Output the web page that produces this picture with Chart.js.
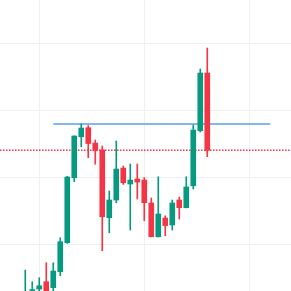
<!DOCTYPE html>
<html>
<head>
<meta charset="utf-8">
<script src="https://cdn.jsdelivr.net/npm/chart.js@4.4.1/dist/chart.umd.min.js"></script>
<style>
  html, body { margin: 0; padding: 0; background: #ffffff; }
  #wrap { width: 291px; height: 291px; }
</style>
</head>
<body>
<div id="wrap"><canvas id="chart"></canvas></div>
<script>
// OHLC (one candle per index)
const opens  = [92.5, 93.06, 93.28, 94.37, 93.48, 95.87, 100.19, 109.9, 116.01, 117.36, 115.07, 114.03, 103.93, 106.57, 111.34, 108.96, 109.7, 109.55, 106.12, 101.09, 103.88, 102.84, 106.57, 105.42, 108.7, 116.91, 125.52];
const highs  = [96.12, 94.37, 94.97, 97.21, 97.21, 100.94, 110.1, 116.15, 117.91, 117.69, 115.52, 114.63, 107.91, 115.37, 111.64, 111.94, 111.94, 109.9, 106.87, 110.04, 104.22, 106.57, 107.01, 110.04, 117.76, 126.12, 129.25];
const lows   = [92.0, 92.9, 92.91, 92.6, 93.03, 95.27, 100.1, 109.3, 114.52, 112.88, 111.9, 99.0, 101.69, 106.16, 108.91, 102.09, 106.72, 103.48, 101.05, 101.05, 101.24, 102.09, 103.73, 105.4, 108.21, 116.72, 113.03];
const closes = [92.9, 93.2, 93.78, 92.8, 95.97, 100.34, 110.0, 116.12, 117.31, 115.0, 113.96, 104.07, 106.57, 111.19, 109.15, 109.55, 109.25, 106.16, 101.09, 104.48, 102.76, 106.12, 105.42, 108.51, 117.01, 125.52, 113.99];

// horizontal level (from candle 4 to index 35) and last price
const resistance = { from: 4, to: 35, price: 117.91 };
const lastPrice = closes[closes.length - 1];

// grid positions (no tick labels shown)
const gridX = [2, 17, 32];
const gridY = [100, 110, 120, 130];

const X_MIN = -3.61, X_MAX = 37.96;
const Y_MIN = 92.99, Y_MAX = 136.42;

const UP = "#089981";
const DOWN = "#f23645";

const colors = closes.map((c, i) => (c >= opens[i] ? UP : DOWN));
const bodies = closes.map((c, i) => ({ x: i, y: [opens[i], c] }));
const wicks = closes.map((c, i) => ({ x: i, y: [lows[i], highs[i]] }));

new Chart(document.getElementById("chart"), {
    type: "bar",
    data: {
        datasets: [
            {
                type: "bar",
                data: bodies,
                backgroundColor: colors,
                barThickness: 5,
                minBarLength: 1,
                grouped: false,
                order: 0
            },
            {
                type: "bar",
                data: wicks,
                backgroundColor: colors,
                barThickness: 1,
                grouped: false,
                order: 1
            },
            {
                type: "line",
                data: [
                    { x: resistance.from, y: resistance.price },
                    { x: resistance.to, y: resistance.price }
                ],
                borderColor: "#82b6ef",
                borderWidth: 2,
                pointRadius: 0,
                order: 2
            },
            {
                type: "line",
                data: [
                    { x: X_MIN, y: lastPrice },
                    { x: X_MAX, y: lastPrice }
                ],
                borderColor: DOWN,
                borderWidth: 1.5,
                borderDash: [1.5, 1.5],
                pointRadius: 0,
                order: 3
            }
        ]
    },
    options: {
        responsive: true,
        maintainAspectRatio: false,
        animation: false,
        layout: { padding: 0, autoPadding: false },
        plugins: {
            legend: { display: false },
            tooltip: { enabled: false }
        },
        scales: {
            x: {
                type: "linear",
                min: X_MIN,
                max: X_MAX,
                offset: false,
                afterBuildTicks: axis => { axis.ticks = gridX.map(v => ({ value: v })); },
                ticks: { display: false },
                grid: { color: "#eeeff2", drawTicks: false, offset: false },
                border: { display: false }
            },
            y: {
                type: "linear",
                min: Y_MIN,
                max: Y_MAX,
                afterBuildTicks: axis => { axis.ticks = gridY.map(v => ({ value: v })); },
                ticks: { display: false },
                grid: { color: "#eeeff2", drawTicks: false },
                border: { display: false }
            }
        }
    }
});
</script>
</body>
</html>
